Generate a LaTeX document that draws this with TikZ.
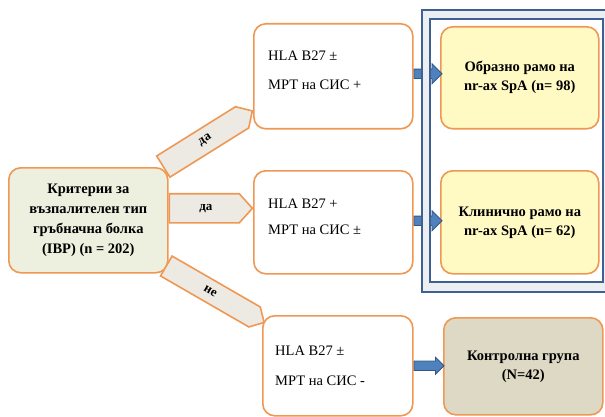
\documentclass[tikz,border=0pt]{standalone}
\usepackage{fontspec}
\setmainfont{Liberation Serif}
\usetikzlibrary{positioning,shapes.arrows,calc}
\definecolor{orborder}{RGB}{238,152,84}
\definecolor{critfill}{RGB}{237,240,222}
\definecolor{arrfill}{RGB}{236,234,227}
\definecolor{armyellow}{RGB}{255,249,196}
\definecolor{ctrltan}{RGB}{222,217,196}
\definecolor{frameblue}{RGB}{62,96,146}
\definecolor{framegray}{RGB}{236,239,242}
\definecolor{bluefill}{RGB}{79,129,189}
\definecolor{bluedraw}{RGB}{52,88,134}
\tikzset{
  box/.style={draw=orborder, line width=1.6pt, rounded corners=12pt, anchor=north west, inner sep=0pt},
  armtxt/.style={anchor=west, align=left, inner sep=0pt, font=\fontsize{14.5}{29}\selectfont},
  resbox/.style={box, align=center, font=\fontsize{14.5}{19}\selectfont\bfseries},
  orarrow/.style={single arrow, single arrow head extend=0pt, draw=orborder, fill=arrfill,
    line width=1.6pt, anchor=tail, inner sep=0pt},
  arrtxt/.style={inner sep=0pt, font=\fontsize{13}{13}\selectfont\bfseries},
  bluearrow/.style={single arrow, single arrow head extend=5pt, single arrow tip angle=90,
    draw=bluedraw, fill=bluefill, line width=0.8pt, anchor=tail, inner sep=4pt, minimum width=20pt}
}
\begin{document}
\begin{tikzpicture}[x=1pt, y=-1pt]
  \useasboundingbox (0,0) rectangle (605,417);
  \clip (0,0) rectangle (605,417);
  \node[box, fill=critfill, minimum width=159pt, minimum height=105pt, align=center,
    font=\fontsize{14.5}{19.7}\selectfont\bfseries] (crit) at (8,167)
    {Критерии за\\възпалителен тип\\гръбначна болка\\(IBP) (n = 202)};
  \node[box, fill=white, minimum width=159pt, minimum height=105pt] (arm1) at (253,23) {};
  \node[box, fill=white, minimum width=159pt, minimum height=103pt] (arm2) at (253,170) {};
  \node[box, fill=white, minimum width=150pt, minimum height=100pt] (arm3) at (262,315) {};
  \node[armtxt] (arm1txt) at ($(arm1.west)+(15,-6)$) {HLA B27 ±\\МРТ на СИС +};
  \node[armtxt, font=\fontsize{14.5}{26}\selectfont] (arm2txt) at ($(arm2.west)+(15,-6)$) {HLA B27 +\\МРТ на СИС ±};
  \node[armtxt, font=\fontsize{14.5}{30}\selectfont] (arm3txt) at ($(arm3.west)+(13,0)$) {HLA B27 ±\\МРТ на СИС -};
  \node[resbox, fill=armyellow, minimum width=158pt, minimum height=102pt] (img) at (440,26)
    {Образно рамо на\\nr-ax SpA (n= 98)};
  \node[resbox, fill=armyellow, minimum width=158pt, minimum height=103pt] (clin) at (440,170)
    {Клинично рамо на\\nr-ax SpA (n= 62)};
  \node[resbox, fill=ctrltan, minimum width=159pt, minimum height=97pt] (ctrl) at (443,317)
    {Контролна група\\(N=42)};
  \node[orarrow, rotate=32, minimum height=105pt, minimum width=25pt, single arrow tip angle=92]
    (yes1) at ($(crit.north east)+(-6,0)$) {};
  \node[orarrow, minimum height=83pt, minimum width=29pt, single arrow tip angle=96]
    (yes2) at ($(crit.east)+(0,-12)$) {};
  \node[orarrow, rotate=-30, minimum height=113pt, minimum width=23pt, single arrow tip angle=92]
    (no) at ($(crit.south east)+(-3,-8)$) {};
  \node[arrtxt, rotate=32] (yes1txt) at ($(yes1.tail)!0.47!(yes1.tip)$) {да};
  \node[arrtxt] (yes2txt) at ($(yes2.tail)!0.44!(yes2.tip)$) {да};
  \node[arrtxt, rotate=-30] (notxt) at ($(no.tail)!0.45!(no.tip)$) {не};
  \node[bluearrow, minimum height=28pt] (a1) at ($(arm1.east)+(0,-2.5)$) {};
  \node[bluearrow, minimum height=28pt] (a2) at ($(arm2.east)+(0,-1.5)$) {};
  \node[bluearrow, minimum height=30pt, minimum width=17pt, single arrow head extend=3.5pt] (a3) at (arm3.east) {};
  \fill[framegray, even odd rule] (422,10) rectangle (609,292) (430,19) rectangle (603,282);
  \draw[frameblue, line width=2pt] (422,10) rectangle (609,292);
  \draw[frameblue, line width=1.5pt] (430,19) rectangle (603,282);
\end{tikzpicture}
\end{document}
